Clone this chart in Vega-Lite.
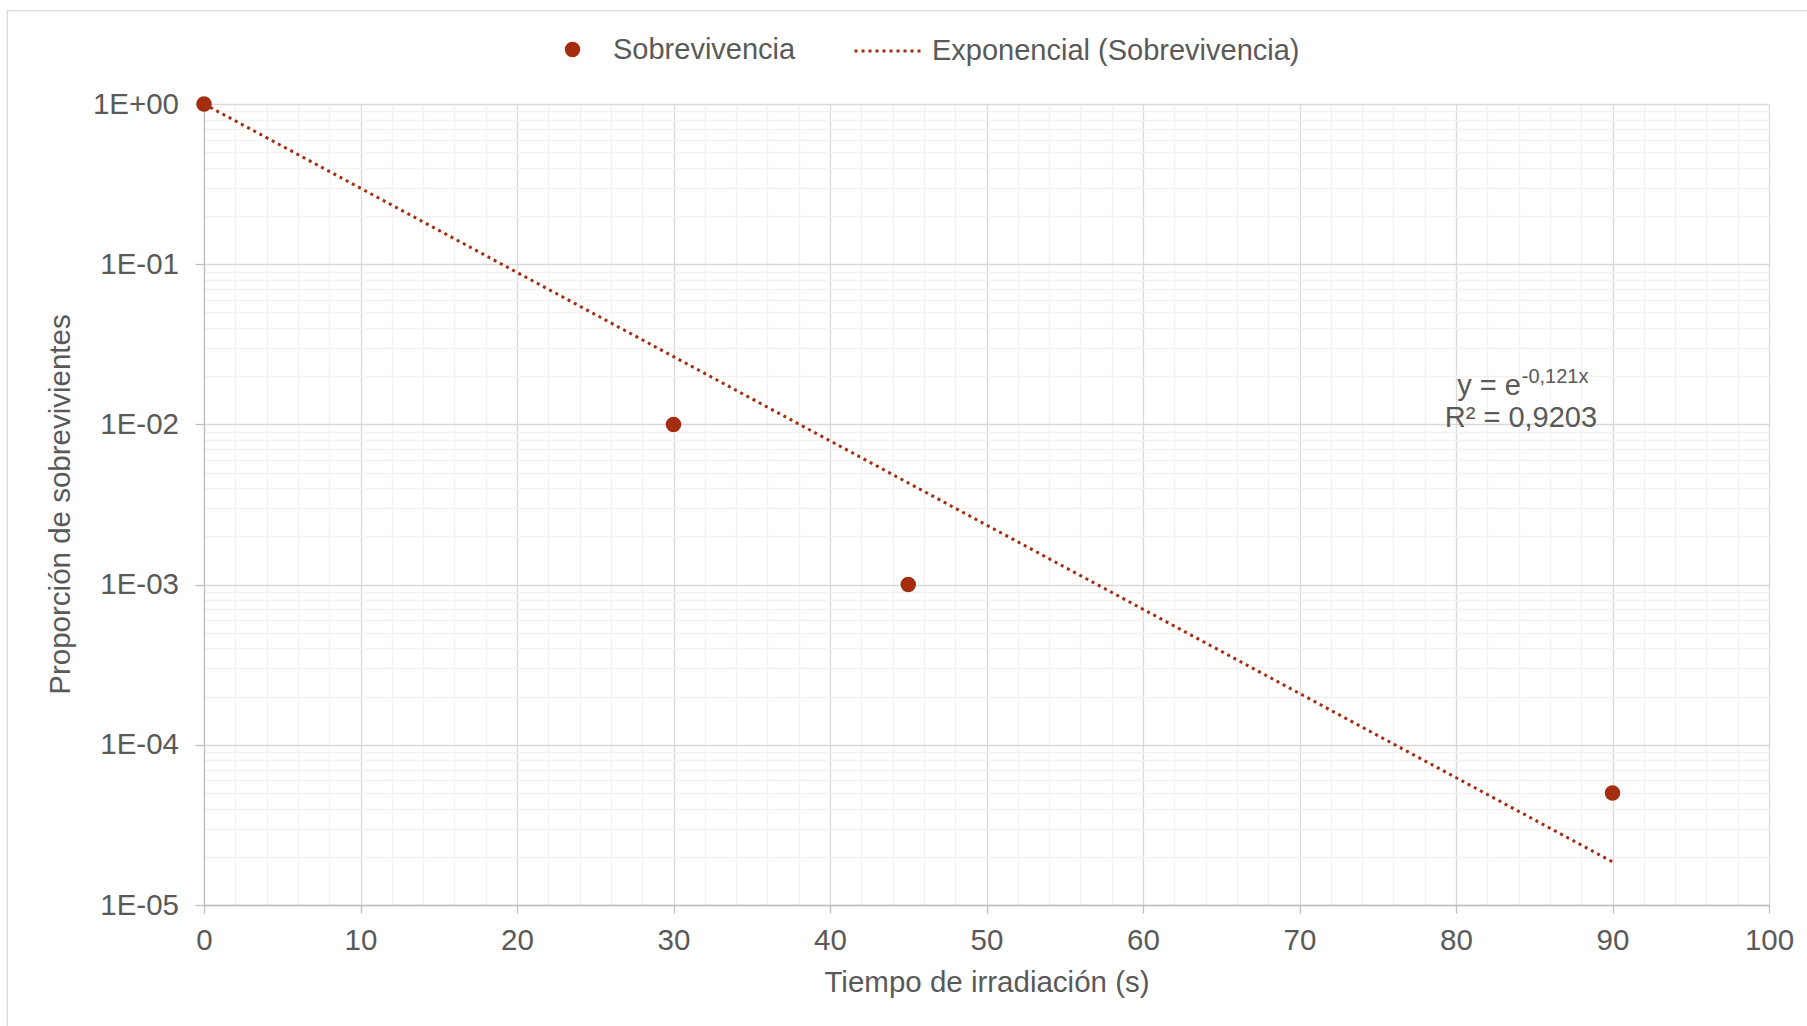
{
  "$schema": "https://vega.github.io/schema/vega-lite/v6.json",
  "width": 1565,
  "height": 801,
  "autosize": {"type": "none"},
  "padding": {"left": 204, "top": 104, "right": 38, "bottom": 121},
  "background": "white",
  "config": {
    "font": "Liberation Sans",
    "view": {"stroke": null},
    "axis": {
      "labelFont": "Liberation Sans",
      "titleFont": "Liberation Sans",
      "labelColor": "#595959",
      "titleColor": "#595959",
      "labelFontSize": 29.5,
      "titleFontSize": 29.5,
      "titleFontWeight": "normal",
      "domainColor": "#BFBFBF",
      "domainWidth": 1.3,
      "tickColor": "#BFBFBF",
      "tickWidth": 1.3,
      "gridWidth": 1.3,
      "labelOverlap": false,
      "labelFlush": false
    },
    "legend": {
      "labelFont": "Liberation Sans",
      "labelFontSize": 29,
      "labelColor": "#595959",
      "labelLimit": 0
    }
  },
  "datasets": {
    "sobrevivencia": [
      {"tiempo": 0, "proporcion": 1},
      {"tiempo": 30, "proporcion": 0.01},
      {"tiempo": 45, "proporcion": 0.001},
      {"tiempo": 90, "proporcion": 0.00005}
    ],
    "tendencia": [
      {"tiempo": 0, "proporcion": 1},
      {"tiempo": 90, "proporcion": 0.0000186}
    ]
  },
  "resolve": {"scale": {"color": "independent"}},
  "layer": [
    {
      "data": {"name": "tendencia"},
      "mark": {"type": "line", "strokeWidth": 3, "strokeDash": [3, 4], "strokeCap": "butt"},
      "encoding": {
        "x": {
          "field": "tiempo",
          "type": "quantitative",
          "scale": {"domain": [0, 100], "nice": false, "zero": false},
          "axis": {
            "title": "Tiempo de irradiación (s)",
            "titlePadding": 14,
            "grid": true,
            "tickCount": 1000,
            "format": "d",
            "labelOverlap": false,
            "labelFlush": false,
            "values": [0, 2, 4, 6, 8, 10, 12, 14, 16, 18, 20, 22, 24, 26, 28, 30, 32, 34, 36, 38, 40, 42, 44, 46, 48, 50, 52, 54, 56, 58, 60, 62, 64, 66, 68, 70, 72, 74, 76, 78, 80, 82, 84, 86, 88, 90, 92, 94, 96, 98, 100],
            "labelExpr": "datum.value % 10 === 0 ? format(datum.value, 'd') : ''",
            "tickSize": 8,
            "labelPadding": 13,
            "tickOpacity": {"condition": {"test": "datum.value % 10 === 0", "value": 1}, "value": 0},
            "gridColor": {"condition": {"test": "datum.value % 10 === 0", "value": "#D9D9D9"}, "value": "#F2F2F2"}
          }
        },
        "y": {
          "field": "proporcion",
          "type": "quantitative",
          "scale": {"type": "log", "domain": [0.00001, 1], "nice": false},
          "axis": {
            "title": "Proporción de sobrevivientes",
            "titleX": -135,
            "titleY": 400,
            "titleAlign": "center",
            "titleBaseline": "alphabetic",
            "titleAngle": 270,
            "grid": true,
            "tickCount": 1000,
            "labelOverlap": false,
            "values": [0.00001, 0.00002, 0.00003, 0.00004, 0.00005, 0.00006, 0.00007, 0.00008, 0.00009, 0.0001, 0.0002, 0.0003, 0.0004, 0.0005, 0.0006, 0.0007, 0.0008, 0.0009, 0.001, 0.002, 0.003, 0.004, 0.005, 0.006, 0.007, 0.008, 0.009, 0.01, 0.02, 0.03, 0.04, 0.05, 0.06, 0.07, 0.08, 0.09, 0.1, 0.2, 0.3, 0.4, 0.5, 0.6, 0.7, 0.8, 0.9, 1],
            "labelExpr": "abs(log(datum.value)/LN10 - round(log(datum.value)/LN10)) < 0.001 ? ('1E' + (round(log(datum.value)/LN10) < 0 ? '-0' : '+0') + abs(round(log(datum.value)/LN10))) : ''",
            "tickSize": 9,
            "labelPadding": 16.5,
            "tickOpacity": {"condition": {"test": "abs(log(datum.value)/LN10 - round(log(datum.value)/LN10)) < 0.001", "value": 1}, "value": 0},
            "gridColor": {"condition": {"test": "abs(log(datum.value)/LN10 - round(log(datum.value)/LN10)) < 0.001", "value": "#D9D9D9"}, "value": "#F2F2F2"}
          }
        },
        "color": {
          "datum": "Exponencial (Sobrevivencia)",
          "scale": {"range": ["#A42C0F"]},
          "legend": {
            "title": null,
            "orient": "none",
            "legendX": 649,
            "legendY": -88,
            "symbolType": "stroke",
            "symbolSize": 4489,
            "symbolStrokeWidth": 3,
            "symbolDash": [3, 4],
            "labelOffset": 9
          }
        }
      }
    },
    {
      "data": {"name": "sobrevivencia"},
      "mark": {"type": "point", "filled": true, "size": 240, "opacity": 1},
      "encoding": {
        "x": {"field": "tiempo", "type": "quantitative"},
        "y": {"field": "proporcion", "type": "quantitative"},
        "color": {
          "datum": "Sobrevivencia",
          "scale": {"range": ["#A42C0F"]},
          "legend": {
            "title": null,
            "orient": "none",
            "legendX": 354,
            "legendY": -69,
            "symbolType": "circle",
            "symbolSize": 240,
            "symbolOpacity": 1,
            "labelOffset": 26
          }
        }
      }
    },
    {
      "data": {"values": [{}]},
      "mark": {"type": "rect", "fill": null, "stroke": "#D9D9D9", "strokeWidth": 1.3, "clip": false},
      "encoding": {
        "x": {"datum": -12.56, "type": "quantitative"},
        "x2": {"datum": 130},
        "y": {"datum": 3.83, "type": "quantitative"},
        "y2": {"datum": 0.0000001}
      }
    },
    {
      "data": {"values": [{}]},
      "mark": {"type": "text", "text": "y = e", "align": "right", "baseline": "alphabetic", "fontSize": 29, "color": "#595959"},
      "encoding": {
        "x": {"datum": 84.15, "type": "quantitative"},
        "y": {"datum": 0.01526, "type": "quantitative"}
      }
    },
    {
      "data": {"values": [{}]},
      "mark": {"type": "text", "text": "-0,121x", "align": "left", "baseline": "alphabetic", "fontSize": 20, "color": "#595959"},
      "encoding": {
        "x": {"datum": 84.2, "type": "quantitative"},
        "y": {"datum": 0.01813, "type": "quantitative"}
      }
    },
    {
      "data": {"values": [{}]},
      "mark": {"type": "text", "text": "R² = 0,9203", "align": "center", "baseline": "alphabetic", "fontSize": 29, "color": "#595959"},
      "encoding": {
        "x": {"datum": 84.15, "type": "quantitative"},
        "y": {"datum": 0.009634, "type": "quantitative"}
      }
    }
  ]
}
